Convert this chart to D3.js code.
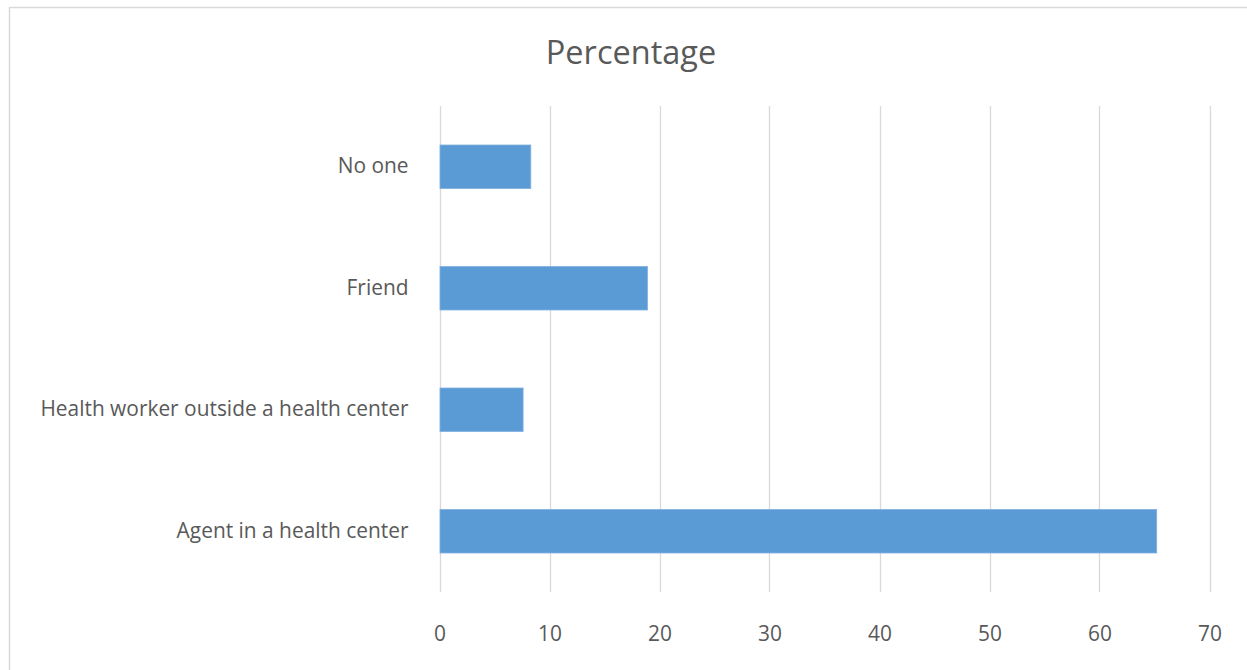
<!DOCTYPE html>
<html>
<head>
<meta charset="utf-8">
<script src="https://cdn.jsdelivr.net/npm/d3@7"></script>
<style>
  html, body { margin: 0; padding: 0; background: #fff; }
  svg { display: block; }
  text { font-family: "Open Sans", "Noto Sans", sans-serif; fill: #595959; }
</style>
</head>
<body>
<svg id="chart" width="1247" height="670"></svg>
<script>
// Who respondents turned to (percentage)
const categories = ["No one", "Friend", "Health worker outside a health center", "Agent in a health center"];
const percentages = [8.3, 18.9, 7.6, 65.2];
const xTicks = [0, 10, 20, 30, 40, 50, 60, 70];
const chartTitle = "Percentage";

const svg = d3.select("#chart");
const W = 1247, H = 670;

// chart frame
svg.append("path")
  .attr("d", `M9.5,${H} V7.5 H${W}`)
  .attr("fill", "none")
  .attr("stroke", "#d9d9d9")
  .attr("stroke-width", 1.5);

const plot = { left: 439.5, right: 1209.5, top: 106, bottom: 592 };

const x = d3.scaleLinear().domain([0, 70]).range([plot.left, plot.right]);
const y = d3.scaleBand().domain(categories).range([plot.top, plot.bottom]).paddingInner(0.642).paddingOuter(0.321);

// vertical gridlines
svg.append("g")
  .selectAll("line")
  .data(xTicks)
  .join("line")
  .attr("x1", d => Math.round(x(d)) + 0.5)
  .attr("x2", d => Math.round(x(d)) + 0.5)
  .attr("y1", plot.top)
  .attr("y2", plot.bottom)
  .attr("stroke", "#d9d9d9")
  .attr("stroke-width", 1.3);

// bars
svg.append("g")
  .selectAll("rect")
  .data(categories)
  .join("rect")
  .attr("x", x(0) + 0.5)
  .attr("y", d => y(d))
  .attr("width", (d, i) => x(percentages[i]) - x(0) - 0.5)
  .attr("height", y.bandwidth())
  .attr("fill", "#5b9bd5")
  .attr("stroke", "#7fb0e0")
  .attr("stroke-width", 0.8);

// category axis labels
const yAxis = d3.axisLeft(y).tickSize(0).tickPadding(31);
const gy = svg.append("g").attr("transform", `translate(${plot.left},0)`).call(yAxis);
gy.select(".domain").remove();
gy.selectAll("text")
  .attr("font-size", 20.9)
  .attr("font-family", "'Open Sans', sans-serif")
  .attr("fill", "#595959");

// value axis labels
const xAxis = d3.axisBottom(x).tickValues(xTicks).tickSize(0).tickPadding(34);
const gx = svg.append("g").attr("transform", `translate(0,${plot.bottom})`).call(xAxis);
gx.select(".domain").remove();
gx.selectAll("text")
  .attr("font-size", 20.9)
  .attr("font-family", "'Open Sans', sans-serif")
  .attr("fill", "#595959");

// title
svg.append("text")
  .attr("x", 631)
  .attr("y", 64)
  .attr("text-anchor", "middle")
  .attr("font-size", 32.5)
  .text(chartTitle);
</script>
</body>
</html>
